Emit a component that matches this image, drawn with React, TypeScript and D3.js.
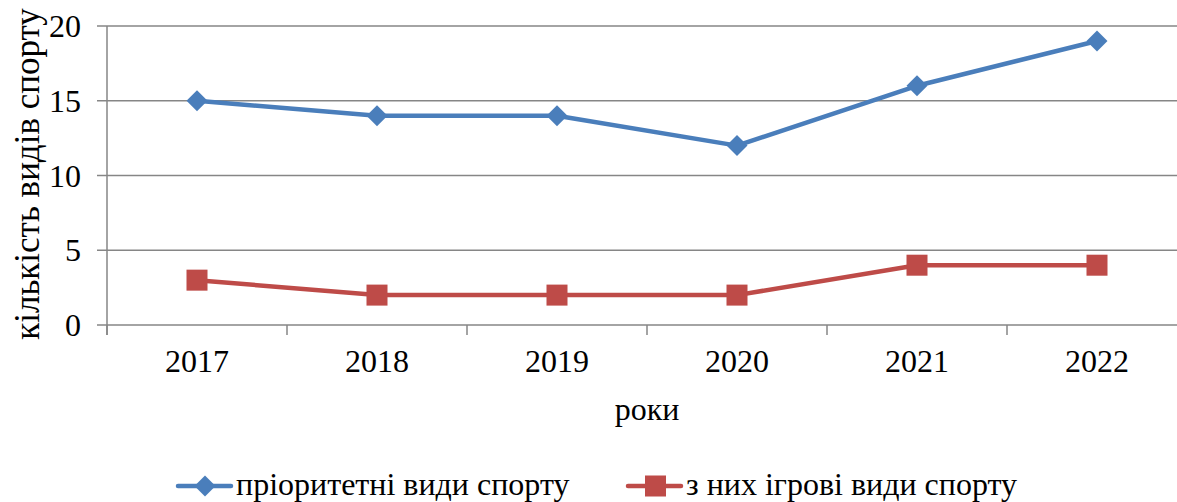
import * as d3 from 'd3';
import React from 'react';

const years = ['2017', '2018', '2019', '2020', '2021', '2022'];
const priority = [15, 14, 14, 12, 16, 19];
const games = [3, 2, 2, 2, 4, 4];
const yTicks = [0, 5, 10, 15, 20];

const seriesNames = ['пріоритетні види спорту', 'з них ігрові види спорту'];
const colors = ['#4a7ebb', '#be4b48'];

const W = 1177;
const H = 502;
const font = '"Liberation Serif", "Times New Roman", serif';

function App() {
  const x = d3.scaleBand().domain(years).range([107, 1187]);
  const y = d3.scaleLinear().domain([0, 20]).range([325, 26]);
  const cx = (d: string) => (x(d) as number) + x.bandwidth() / 2;

  const line = d3
    .line<number>()
    .x((_, i) => cx(years[i]))
    .y((d) => y(d));

  const diamond = d3.symbol().type(d3.symbolDiamond2).size(280);
  const grid = '#868686';

  const ticksX = years.map((d) => x(d) as number);

  return (
    <svg
      width={W}
      height={H}
      style={{ position: 'fixed', left: 0, top: 0, background: '#fff' }}
    >
      {/* gridlines */}
      {yTicks.map((t) => (
        <line key={t} x1={97} x2={W} y1={y(t)} y2={y(t)} stroke={grid} strokeWidth={1.5} />
      ))}
      <line x1={107} x2={107} y1={26} y2={335} stroke={grid} strokeWidth={1.5} />
      {ticksX.map((tx, i) => (
        <line key={i} x1={tx} x2={tx} y1={325} y2={335} stroke={grid} strokeWidth={1.5} />
      ))}
      {yTicks.map((t) => (
        <text
          key={t}
          x={81}
          y={y(t) + 11}
          textAnchor="end"
          fontFamily={font}
          fontSize={32}
          fill="#000"
        >
          {t}
        </text>
      ))}
      {years.map((d) => (
        <text key={d} x={cx(d)} y={372} textAnchor="middle" fontFamily={font} fontSize={32}>
          {d}
        </text>
      ))}
      <text x={647} y={420} textAnchor="middle" fontFamily={font} fontSize={32}>
        роки
      </text>
      <text
        transform="translate(39,174) rotate(-90)"
        textAnchor="middle"
        fontFamily={font}
        fontSize={35}
      >
        кількість видів спорту
      </text>

      {/* series */}
      <path d={line(priority) || ''} fill="none" stroke={colors[0]} strokeWidth={4.5} strokeLinejoin="round" />
      <path d={line(games) || ''} fill="none" stroke={colors[1]} strokeWidth={4.5} strokeLinejoin="round" />
      {priority.map((v, i) => (
        <path
          key={i}
          d={diamond() || ''}
          transform={`translate(${cx(years[i])},${y(v)})`}
          fill={colors[0]}
        />
      ))}
      {games.map((v, i) => (
        <rect key={i} x={cx(years[i]) - 10.5} y={y(v) - 10.5} width={21} height={21} fill={colors[1]} />
      ))}

      {/* legend */}
      <g transform="translate(0,486)">
        <line x1={178} x2={231} y1={0} y2={0} stroke={colors[0]} strokeWidth={4.5} strokeLinecap="round" />
        <path d={diamond() || ''} transform="translate(205,0)" fill={colors[0]} />
        <text x={236} y={9} fontFamily={font} fontSize={32}>
          {seriesNames[0]}
        </text>
        <line x1={628} x2={681} y1={0} y2={0} stroke={colors[1]} strokeWidth={4.5} strokeLinecap="round" />
        <rect x={645} y={-10.5} width={21} height={21} fill={colors[1]} />
        <text x={686} y={9} fontFamily={font} fontSize={32}>
          {seriesNames[1]}
        </text>
      </g>
    </svg>
  );
}

export default App;
